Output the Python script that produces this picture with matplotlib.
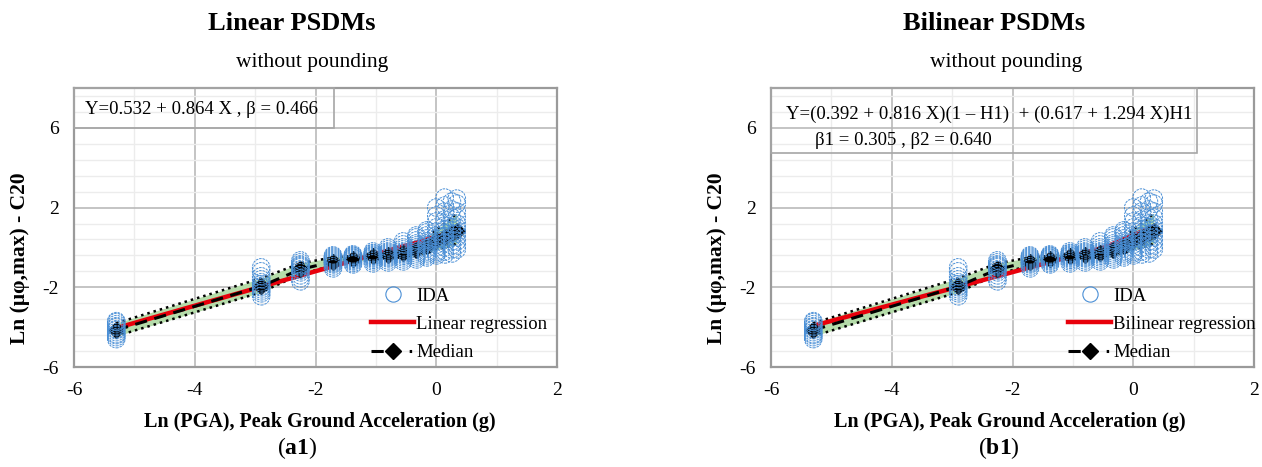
import numpy as np
import matplotlib
matplotlib.use("Agg")
import matplotlib.pyplot as plt
from matplotlib.patches import Rectangle
from matplotlib.lines import Line2D

plt.rcParams["font.family"] = ["Liberation Serif", "DejaVu Serif"]
plt.rcParams["mathtext.fontset"] = "custom"
plt.rcParams["mathtext.rm"] = "Liberation Serif"
plt.rcParams["mathtext.bf"] = "Liberation Serif:bold"
plt.rcParams["axes.unicode_minus"] = False

# ---- data -------------------------------------------------------------
# Intensity levels, ln(PGA)
ln_pga = [-5.30, -2.90, -2.25, -1.71, -1.38, -1.05, -0.80, -0.55, -0.33, -0.16, 0.00, 0.14, 0.26, 0.34]

# IDA responses, ln(mu_phi,max), one list per intensity level
ida_response = [
    [-4.6, -4.5, -4.4, -4.35, -4.25, -4.15, -4.1, -4.0, -3.95, -3.85, -3.75, -3.7],
    [-2.45, -2.3, -2.2, -2.1, -2.0, -1.95, -1.85, -1.75, -1.6, -1.45, -1.2, -1.0],
    [-1.7, -1.55, -1.4, -1.25, -1.15, -1.1, -1.0, -0.95, -0.9, -0.85, -0.75, -0.65],
    [-1.05, -0.95, -0.85, -0.8, -0.75, -0.7, -0.65, -0.6, -0.55, -0.5, -0.45, -0.4],
    [-0.85, -0.78, -0.7, -0.65, -0.6, -0.55, -0.52, -0.5, -0.45, -0.42, -0.4, -0.35],
    [-0.8, -0.7, -0.62, -0.55, -0.5, -0.45, -0.42, -0.4, -0.35, -0.3, -0.28, -0.2],
    [-0.75, -0.65, -0.55, -0.5, -0.45, -0.4, -0.35, -0.3, -0.25, -0.2, -0.1, 0.0],
    [-0.7, -0.6, -0.5, -0.42, -0.35, -0.3, -0.25, -0.2, -0.1, 0.0, 0.15, 0.3],
    [-0.6, -0.5, -0.4, -0.3, -0.2, -0.1, 0.0, 0.1, 0.2, 0.35, 0.5, 0.6],
    [-0.5, -0.4, -0.3, -0.2, -0.05, 0.1, 0.2, 0.3, 0.45, 0.6, 0.75, 0.85],
    [-0.4, -0.3, -0.2, 0.0, 0.15, 0.3, 0.45, 0.6, 0.8, 1.0, 1.3, 1.6, 2.0],
    [-0.35, -0.2, 0.0, 0.2, 0.4, 0.55, 0.7, 0.9, 1.1, 1.4, 1.8, 2.1, 2.5],
    [-0.3, -0.1, 0.1, 0.3, 0.5, 0.7, 0.85, 1.0, 1.2, 1.5, 1.9, 2.3],
    [-0.1, 0.1, 0.3, 0.5, 0.7, 0.85, 1.0, 1.2, 1.5, 1.8, 2.2, 2.45],
]

# Median response and dispersion band per level
median = [-4.15, -1.95, -1.1, -0.72, -0.58, -0.45, -0.38, -0.3, -0.15, 0.05, 0.35, 0.5, 0.7, 0.8]
band_upper = [-3.8, -1.55, -0.8, -0.5, -0.42, -0.3, -0.2, -0.05, 0.2, 0.45, 0.9, 1.2, 1.5, 1.7]
band_lower = [-4.45, -2.25, -1.35, -0.9, -0.72, -0.6, -0.55, -0.5, -0.4, -0.3, -0.1, 0.0, 0.1, 0.2]

# Regression coefficients
lin_a, lin_b, lin_beta = 0.532, 0.864, 0.466
bil_a1, bil_b1, bil_a2, bil_b2 = 0.392, 0.816, 0.617, 1.294
bil_beta1, bil_beta2 = 0.305, 0.640

x_ticks = [-6, -4, -2, 0, 2]
y_ticks = [-6, -2, 2, 6]

# ---- styling ----------------------------------------------------------
BLUE = "#4a8fd6"
GREEN = "#b5dcaa"
RED = "#e8000b"
GRID_MAJ = "#b4b4b4"
GRID_MIN = "#ececec"
SPINE = "#9a9a9a"

W, H = 1262, 467
fig = plt.figure(figsize=(W / 100, H / 100), dpi=100)


def px_axes(x0, x1, y0, y1):
    return fig.add_axes([x0 / W, 1 - y1 / H, (x1 - x0) / W, (y1 - y0) / H])


def draw_panel(ax, reg_x, reg_y, reg_label):
    ax.set_xlim(-6, 2)
    ax.set_ylim(-6, 8)
    ax.set_xticks(x_ticks)
    ax.set_yticks(y_ticks)
    ax.set_xticks(np.arange(-6, 2.01, 1.0), minor=True)
    ax.set_yticks(np.arange(-6, 8.01, 0.8), minor=True)
    ax.grid(which="minor", color=GRID_MIN, lw=1.0, zorder=0)
    ax.grid(which="major", color=GRID_MAJ, lw=1.1, zorder=0)
    ax.set_axisbelow(True)
    ax.tick_params(which="both", length=0, labelsize=14, colors="black")
    ax.tick_params(axis="x", pad=11)
    ax.tick_params(axis="y", pad=11)
    for s in ax.spines.values():
        s.set_color(SPINE)
        s.set_linewidth(1.6)

    ax.fill_between(ln_pga, band_lower, band_upper, color=GREEN, lw=0, zorder=2)
    ax.plot(ln_pga, band_upper, color="black", ls=(0, (1, 1.6)), lw=1.8, zorder=3)
    ax.plot(ln_pga, band_lower, color="black", ls=(0, (1, 1.6)), lw=1.8, zorder=3)
    ax.plot(reg_x, reg_y, color=RED, lw=3.2, zorder=4, solid_capstyle="butt")
    ax.plot(ln_pga, median, color="black", ls=(0, (4, 2.5)), lw=2.2,
            marker="D", ms=8, zorder=5)

    xs = np.concatenate([[x] * len(v) for x, v in zip(ln_pga, ida_response)])
    ys = np.concatenate([np.asarray(v, float) for v in ida_response])
    ax.scatter(xs, ys, s=160, facecolors="none", edgecolors=BLUE,
               linewidths=0.7, linestyle=(0, (2.5, 1)), zorder=6)

    handles = [
        Line2D([], [], ls="none", marker="o", ms=11, mfc="none", mec=BLUE, mew=0.8),
        Line2D([], [], color=RED, lw=3.2),
        Line2D([], [], color="black", ls=(0, (4, 8.5, 0.8, 10)), lw=2.2,
               marker="D", ms=8),
    ]
    ax.legend(handles, ["IDA", reg_label, "Median"], loc="upper left",
              bbox_to_anchor=(0.615, 0.285), frameon=False, fontsize=13.5,
              handlelength=2.3, handletextpad=0.1, labelspacing=0.6,
              borderpad=0, borderaxespad=0)


# ---- left: linear model ------------------------------------------------
ax1 = px_axes(74, 557, 88, 367)
lx = np.array([ln_pga[0], ln_pga[-1]])
draw_panel(ax1, lx, lin_a + lin_b * lx, "Linear regression")
ax1.add_patch(Rectangle((-6, 6), 4.3, 2, transform=ax1.transData, fill=False,
                        ec="#a6a6a6", lw=1.2, zorder=7, clip_on=False))
ax1.text(-5.82, 6.9, f"Y={lin_a:.3f} + {lin_b:.3f} X , β = {lin_beta:.3f}",
         fontsize=13.5, ha="left", va="center", zorder=8)

# ---- right: bilinear model ---------------------------------------------
ax2 = px_axes(771, 1254, 88, 367)
x_break = (bil_a2 - bil_a1) / (bil_b1 - bil_b2)
bx = np.array([ln_pga[0], x_break, ln_pga[-1]])
by = np.where(bx <= x_break, bil_a1 + bil_b1 * bx, bil_a2 + bil_b2 * bx)
draw_panel(ax2, bx, by, "Bilinear regression")
ax2.add_patch(Rectangle((-6, 4.75), 7.05, 3.25, transform=ax2.transData, fill=False,
                        ec="#a6a6a6", lw=1.2, zorder=7, clip_on=False))
ax2.text(-5.75, 6.7,
         f"Y=({bil_a1:.3f} + {bil_b1:.3f} X)(1 – H1)  + ({bil_a2:.3f} + {bil_b2:.3f} X)H1",
         fontsize=13.5, ha="left", va="center", zorder=8)
ax2.text(-5.27, 5.35, f"β1 = {bil_beta1:.3f} , β2 = {bil_beta2:.3f}",
         fontsize=13.5, ha="left", va="center", zorder=8)

# ---- titles and axis labels ---------------------------------------------
def ftext(x, y, s, **kw):
    fig.text(x / W, 1 - y / H, s, ha="center", va="center", **kw)


for cx, sx, lx_c, title, tag in [(292, 312, 320, "Linear PSDMs", "a1"),
                                  (994, 1006, 1010, "Bilinear PSDMs", "b1")]:
    ftext(cx, 23, title, fontsize=19, fontweight="bold")
    ftext(sx, 62, "without pounding", fontsize=15.5)
    ftext(lx_c, 422, "Ln (PGA), Peak Ground Acceleration (g)",
          fontsize=14.5, fontweight="bold")
    ftext(cx + 5, 448, r"($\mathbf{" + tag + r"}$)", fontsize=17)

ftext(20, 258, "Ln (μφ,max) - C20", fontsize=15.5, fontweight="bold", rotation=90)
ftext(717, 258, "Ln (μφ,max) - C20", fontsize=15.5, fontweight="bold", rotation=90)

fig.savefig("out.png", dpi=100)
